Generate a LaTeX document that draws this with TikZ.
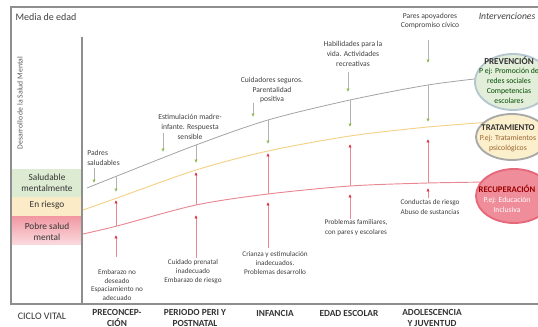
\documentclass[tikz,border=0pt]{standalone}
\usepackage{fontspec}
\setmainfont{Carlito}
\usepackage{tikz}
\usetikzlibrary{positioning,arrows.meta,shapes.geometric}

\definecolor{framegray}{HTML}{8E8E8E}
\definecolor{curvegray}{HTML}{A3A3A3}
\definecolor{curveyellow}{HTML}{F3D187}
\definecolor{curvered}{HTML}{E88893}
\definecolor{tipgreen}{HTML}{8DB94E}
\definecolor{tipred}{HTML}{D9303F}
\definecolor{bandgreen}{HTML}{DDEBD3}
\definecolor{bandyellow}{HTML}{FBEBC6}
\definecolor{bandred}{HTML}{F19AA4}
\definecolor{prevfill}{HTML}{E3EEDA}
\definecolor{prevedge}{HTML}{B4C6CF}
\definecolor{tratfill}{HTML}{FCEFCB}
\definecolor{tratedge}{HTML}{A8A8A8}
\definecolor{recfill}{HTML}{EF8E9A}
\definecolor{recedge}{HTML}{E5697A}

\begin{document}
\begin{tikzpicture}[x=0.75pt,y=-0.75pt,
        small/.style={font=\fontsize{5.4}{6.3}\selectfont,align=center,inner sep=0pt,text=black!75},
        upper/.style={font=\fontsize{5.7}{7.4}\selectfont,align=center,inner sep=0pt,text=black!75},
        stage/.style={font=\fontsize{7}{7.6}\selectfont\bfseries,align=center,inner sep=0pt,text=black!80},
        band/.style={font=\fontsize{7}{8.4}\selectfont,align=center,inner sep=0pt,text=black!80},
        frameline/.style={framegray,line width=0.9pt},
        goodarrow/.style={-{Latex[length=2.6pt,width=2.6pt,color=tipgreen]},black!30,line width=0.5pt},
        riskarrow/.style={-{Latex[length=2.6pt,width=2.6pt,color=tipred]},curvered,line width=0.6pt},
        oval/.style={ellipse,inner sep=0pt,line width=1.4pt}]
        \useasboundingbox (0,0) rectangle (538,327);

        \fill[bandgreen] (11.5,169) rectangle (81.5,197);
        \fill[bandyellow] (11.5,197) rectangle (81.5,217);
        \shade[top color=bandred,bottom color=bandred!35!white] (11.5,217) rectangle (81.5,245);
        \draw[frameline] (538,7) -- (11,7) -- (11,304) -- (538,304);
        \draw[frameline] (82,37) -- (82,304);

        \node[font=\fontsize{7.5}{9}\selectfont,text=black!75] (media) at (46,17) {Media de edad};
        \node[font=\fontsize{5.8}{7}\selectfont,text=black!65,rotate=90] (desarrollo) at (20,103) {Desarrollo de la Salud Mental};
        \node[band] (sano) at (47,183) {Saludable\\mentalmente};
        \node[band] (riesgo) at (47,205) {En riesgo};
        \node[band] (pobre) at (47,232) {Pobre salud\\mental};

        \draw[curvegray,line width=0.6pt] plot[smooth] coordinates {(87,188) (117,176) (196,145) (268,120) (350,100) (428,85) (492,77)};
        \draw[curveyellow,line width=0.7pt] plot[smooth] coordinates {(83,210) (117,198) (196,170) (268,151) (350,136) (428,127) (492,122)};
        \draw[curvered,line width=0.7pt] plot[smooth] coordinates {(83,234) (117,226) (196,205) (268,194) (350,186) (428,183) (492,182)};

        \foreach \col/\x/\gy/\gt/\rt/\ry/\bt/\bs in
            {A/116/176/192/200/226/235/257, B/196/145/163/172/205/215/258,
             C/268/120/144/153/194/202/248, D/350/100/127/144/186/194/219,
             E/428/85/122/139/183/188/198}{
            \coordinate (g\col) at (\x,\gy);
            \coordinate (gt\col) at (\x,\gt);
            \coordinate (rt\col) at (\x,\rt);
            \coordinate (r\col) at (\x,\ry);
            \coordinate (bt\col) at (\x,\bt);
            \coordinate (bs\col) at (\x,\bs);
            \draw[goodarrow] (g\col) -- (gt\col);
            \draw[riskarrow] (r\col) -- (rt\col);
            \draw[riskarrow] (bs\col) -- (bt\col);
        }

        \node[upper,align=left,anchor=west] (padres) at (87,158) {Padres\\saludables};
        \node[upper] (estimulacion) at (190,127) {Estimulación madre-\\infante. Respuesta\\sensible};
        \node[upper] (cuidadores) at (272,90) {Cuidadores seguros.\\Parentalidad\\positiva};
        \node[upper] (habilidades) at (353,54) {Habilidades para la\\vida. Actividades\\recreativas};
        \node[upper] (pares) at (430,21) {Pares apoyadores\\Compromiso cívico};
        \foreach \n/\x/\a/\b in {A/94/168/183, B/163/133/152, C/253/103/117, D/348/72/92, E/428/40/63}{
            \coordinate (ta\n) at (\x,\a);
            \coordinate (tb\n) at (\x,\b);
            \draw[goodarrow] (ta\n) -- (tb\n);
        }

        \node[small] (embarazo) at (117,285) {Embarazo no\\deseado\\Espaciamiento no\\adecuado};
        \node[small,font=\fontsize{5.4}{6.7}\selectfont] (prenatal) at (193,272) {Cuidado prenatal\\inadecuado\\Embarazo de riesgo};
        \node[small,font=\fontsize{5.4}{6.7}\selectfont] (crianza) at (275,263) {Crianza y estimulación\\inadecuados.\\Problemas desarrollo};
        \node[small,font=\fontsize{5.4}{7.4}\selectfont] (familiares) at (356,228) {Problemas familiares,\\con pares y escolares};
        \node[small,font=\fontsize{5.4}{7.4}\selectfont] (conductas) at (430,207) {Conductas de riesgo\\Abuso de sustancias};

        \node[font=\fontsize{7.2}{8}\selectfont\itshape,text=black!75] (interv) at (507,16) {Intervenciones};
        \node[oval,draw=prevedge,fill=prevfill,minimum width=57pt,minimum height=42pt] (prev) at (513,82) {};
        \node[oval,draw=tratedge,fill=tratfill,minimum width=54pt,minimum height=34.5pt] (trat) at (512,137) {};
        \node[oval,draw=recedge,fill=recfill,minimum width=57pt,minimum height=40.5pt] (recup) at (514,196) {};
        \node[upper,font=\fontsize{5.8}{7.4}\selectfont,text=green!30!black] (prevtxt) at (509,80)
            {{\fontsize{6.8}{7.4}\selectfont\bfseries\color{black!80} PREVENCIÓN}\\P ej: Promoción de\\redes sociales\\Competencias\\escolares};
        \node[upper,font=\fontsize{5.8}{7.6}\selectfont,text=brown!80!black] (trattxt) at (508,138)
            {{\fontsize{6.6}{7.6}\selectfont\bfseries\color{black!80} TRATAMIENTO}\\P.ej: Tratamientos\\psicológicos};
        \node[upper,font=\fontsize{5.8}{7.6}\selectfont,text=white] (recuptxt) at (507,199)
            {{\fontsize{6.5}{7.6}\selectfont\bfseries\color{red!60!black} RECUPERACIÓN}\\P.ej: Educación\\Inclusiva};

        \node[font=\fontsize{7.5}{9}\selectfont,text=black!80] (ciclo) at (42,316) {CICLO VITAL};
        \node[stage] (preconcep) at (117,318) {PRECONCEP-\\CIÓN};
        \node[stage] (peri) at (195,318) {PERIODO PERI Y\\POSTNATAL};
        \node[stage] (infancia) at (275,313) {INFANCIA};
        \node[stage] (escolar) at (349,313) {EDAD ESCOLAR};
        \node[stage] (adolesc) at (432,318) {ADOLESCENCIA\\Y JUVENTUD};
\end{tikzpicture}
\end{document}
